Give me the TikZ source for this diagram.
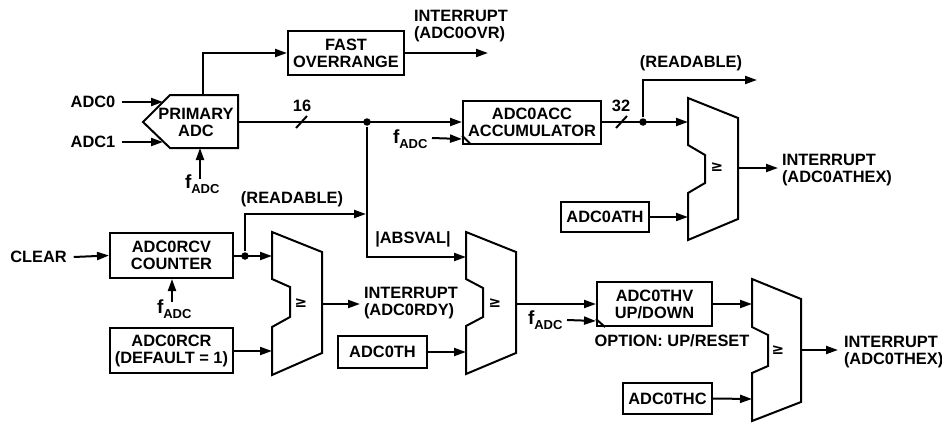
\documentclass[tikz,border=0pt]{standalone}
\usepackage{fontspec}
\setmainfont{Liberation Sans}
\newfontfamily\geqfont{DejaVu Sans}
\usetikzlibrary{arrows.meta}
\newcommand{\dfont}{\fontsize{16.4}{17}\selectfont\bfseries}
\newcommand{\fadc}{{\fontsize{19}{19}\selectfont f}\raisebox{-5pt}{\fontsize{13}{13}\selectfont ADC}}
\newcommand{\geqsym}{{\geqfont\bfseries\fontsize{15}{15}\selectfont ≥}}
\begin{document}
\begin{tikzpicture}[x=1pt,y=-1pt,line width=2pt,line join=miter,
  arr/.style={-{Triangle[length=12pt,width=8pt]}},
  box/.style={draw,rectangle,inner sep=0pt,align=center,font=\dfont},
  txt/.style={inner sep=0pt,align=center,font=\dfont},
  ltxt/.style={inner sep=0pt,align=left,font=\dfont,anchor=west},
  fnode/.style={inner sep=0pt,font=\dfont,anchor=base west},
  jdot/.style={circle,fill,inner sep=0pt,minimum size=7.5pt}]
\useasboundingbox (0,0) rectangle (942,423);

% ---------- Primary ADC ----------
\draw (143,122) -- (170,95) -- (238,95) -- (238,148) -- (170,148) -- cycle;
\node[txt] (padc) at (196,122) {PRIMARY\\ADC};
\coordinate (pin0) at (163,102);
\coordinate (pin1) at (163,142);
\coordinate (pclk) at (200,148);
\coordinate (ptop) at (203,95);
\coordinate (pout) at (238,122);

\node[txt] (adc0) at (93,102) {ADC0};
\node[txt] (adc1) at (93,142) {ADC1};
\draw[arr] ([xshift=6pt]adc0.east) -- (pin0);
\draw[arr] ([xshift=6pt]adc1.east) -- (pin1);

\node[fnode] (f1) at (184,188) {\fadc};
\coordinate (f1t) at (200,179);
\draw[arr] (f1t) -- (pclk);

% ---------- Fast overrange ----------
\node[box,minimum width=116pt,minimum height=44pt] (fast) at (346,53) {FAST\\OVERRANGE};
\draw[arr] (ptop) |- (fast.west);
\coordinate (ovrend) at (488,53);
\draw[arr] (fast.east) -- (ovrend);
\node[ltxt] (iovr) at (413,26) {INTERRUPT\\(ADC0OVR)};

% ---------- Accumulator ----------
\node[box,minimum width=138pt,minimum height=43pt] (acc) at (532,122) {ADC0ACC\\ACCUMULATOR};
\node[jdot] (j1) at (367,122) {};
\draw[arr] (pout) -- (acc.west);
\draw (296,128) -- (307,116);
\node[txt] (n16) at (302,106) {16};
\draw ([yshift=9pt]acc.south west) -- ([xshift=9pt]acc.south west);
\node[fnode] (f2) at (392,143) {\fadc};
\coordinate (f2t) at (432,138);
\draw[arr] (f2t) -- ([yshift=5.5pt]acc.south west);

% ---------- Comparator 1 ----------
\draw (688,98) -- (738,118) -- (738,219) -- (688,240) -- (688,193) -- (705,183) -- (705,155) -- (688,145) -- cycle;
\coordinate (m1a) at (688,122);
\coordinate (m1b) at (688,217);
\coordinate (m1o) at (738,168);
\node[txt] (g1) at (717,167) {\geqsym};
\node[jdot] (j2) at (643,122) {};
\draw[arr] (acc.east) -- (m1a);
\draw (616,128) -- (627,116);
\node[txt] (n32) at (621,106) {32};
\coordinate (rd1end) at (757,80);
\draw[arr] (j2) |- (rd1end);
\node[txt] (rd1) at (691,63) {(READABLE)};
\node[box,minimum width=88pt,minimum height=30pt] (ath) at (605,217) {ADC0ATH};
\draw[arr] (ath.east) -- (m1b);
\coordinate (athexend) at (778,168);
\draw[arr] (m1o) -- (athexend);
\node[ltxt] (iath) at (781,170) {INTERRUPT\\(ADC0ATHEX)};

% ---------- Counter ----------
\node[txt] (clear) at (38.5,257) {CLEAR};
\node[box,minimum width=123pt,minimum height=45pt] (rcv) at (171.5,255.5) {ADC0RCV\\COUNTER};
\draw[arr] ([xshift=6pt]clear.east) -- (rcv.west);
\node[fnode] (f3) at (156,313) {\fadc};
\coordinate (f3t) at (172,302);
\draw[arr] (f3t) -- (f3t |- rcv.south);
\node[box,minimum width=123pt,minimum height=45pt] (rcr) at (171.5,350.5) {ADC0RCR\\(DEFAULT = 1)};

% ---------- Comparator 2 ----------
\draw (272,232) -- (322,252) -- (322,353) -- (272,375) -- (272,327) -- (290,317) -- (290,287) -- (272,279) -- cycle;
\coordinate (m2a) at (272,256);
\coordinate (m2b) at (272,351);
\coordinate (m2o) at (322,304);
\node[txt] (g2) at (301,303) {\geqsym};
\node[jdot] (j3) at (245,256) {};
\draw[arr] (rcv.east |- m2a) -- (m2a);
\coordinate (rd2end) at (366,214);
\draw[arr] (j3) |- (rd2end);
\node[txt] (rd2) at (292,199) {(READABLE)};
\draw[arr] (rcr.east |- m2b) -- (m2b);
\coordinate (rdyend) at (360,304);
\draw[arr] (m2o) -- (rdyend);
\node[ltxt] (irdy) at (363,303) {INTERRUPT\\(ADC0RDY)};

% ---------- Comparator 3 ----------
\draw (466,232) -- (516,252) -- (516,353) -- (466,374) -- (466,326) -- (483,317) -- (483,288) -- (466,279) -- cycle;
\coordinate (m3a) at (466,257);
\coordinate (m3b) at (466,352);
\coordinate (m3o) at (516,304);
\node[txt] (g3) at (495,303) {\geqsym};
\draw[arr] (j1) |- (m3a);
\node[txt] (abs) at (413,239) {|ABSVAL|};
\node[box,minimum width=89pt,minimum height=32pt] (th) at (382.5,352) {ADC0TH};
\draw[arr] (th.east) -- (m3b);

% ---------- Up/down counter ----------
\node[box,minimum width=115pt,minimum height=44pt] (thv) at (654.5,304) {ADC0THV\\UP/DOWN};
\draw[arr] (m3o) -- (thv.west);
\draw ([yshift=8pt]thv.south west) -- ([xshift=9pt]thv.south west);
\node[fnode] (f4) at (527,324) {\fadc};
\coordinate (f4t) at (567,320);
\draw[arr] (f4t) -- ([yshift=6pt]thv.south west);
\node[txt] (opt) at (672,341) {OPTION: UP/RESET};

% ---------- Comparator 4 ----------
\draw (752,279) -- (801,299) -- (801,402) -- (752,421) -- (752,373) -- (768,366) -- (768,335) -- (752,327) -- cycle;
\coordinate (m4a) at (752,304);
\coordinate (m4b) at (752,399);
\coordinate (m4o) at (801,350);
\node[txt] (g4) at (778,350) {\geqsym};
\draw[arr] (thv.east) -- (m4a);
\node[box,minimum width=89pt,minimum height=31pt] (thc) at (667.5,398.5) {ADC0THC};
\draw[arr] (thc.east) -- (m4b);
\coordinate (thexend) at (838,350);
\draw[arr] (m4o) -- (thexend);
\node[ltxt] (ithex) at (843,352) {INTERRUPT\\(ADC0THEX)};
\end{tikzpicture}
\end{document}
